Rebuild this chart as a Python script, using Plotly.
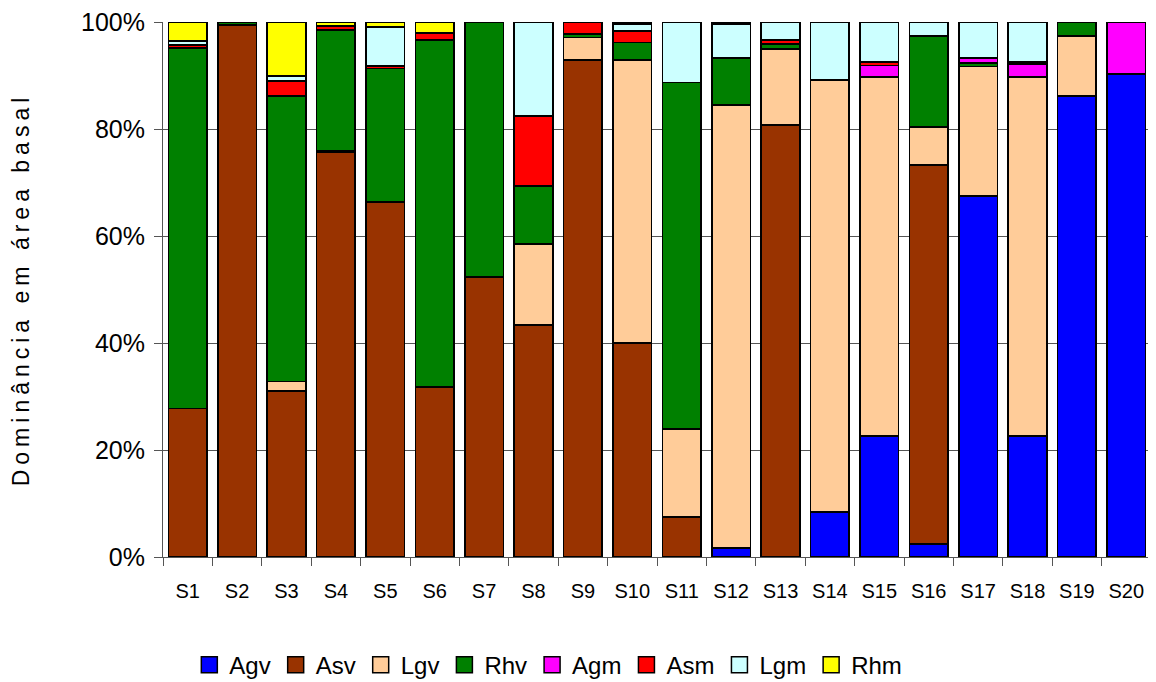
import plotly.graph_objects as go

categories = [f"S{i}" for i in range(1, 21)]
series_names = ["Agv", "Asv", "Lgv", "Rhv", "Agm", "Asm", "Lgm", "Rhm"]
colors = ["#0000FF", "#993300", "#FFCC99", "#008000", "#FF00FF", "#FF0000", "#CCFFFF", "#FFFF00"]

Agv = [0, 0, 0, 0, 0, 0, 0, 0, 0, 0, 0, 1.7, 0, 8.4, 22.6, 2.4, 67.5, 22.6, 86.2, 90.3]
Asv = [27.7, 99.4, 31.0, 75.7, 66.4, 31.8, 52.3, 43.4, 92.9, 40.0, 7.5, 0, 80.7, 0, 0, 70.9, 0, 0, 0, 0]
Lgv = [0, 0, 1.8, 0.3, 0, 0, 0, 15.1, 4.2, 52.9, 16.4, 82.8, 14.3, 80.8, 67.1, 7.1, 24.2, 67.1, 11.2, 0]
Rhv = [67.4, 0.6, 53.4, 22.5, 24.9, 64.8, 47.7, 10.8, 0.7, 3.3, 64.8, 8.8, 0.9, 0, 0, 17.0, 0.6, 0, 2.6, 0]
Agm = [0, 0, 0, 0, 0, 0, 0, 0, 0, 0, 0, 0, 0, 0, 2.2, 0, 1.0, 2.4, 0, 9.7]
Asm = [0.5, 0, 2.8, 0.7, 0.5, 1.3, 0, 13.1, 2.2, 2.1, 0, 0, 0.7, 0, 0.6, 0, 0, 0.4, 0, 0]
Lgm = [0.7, 0, 0.9, 0, 7.3, 0, 0, 17.6, 0, 1.3, 11.3, 6.3, 3.4, 10.8, 7.5, 2.6, 6.7, 7.5, 0, 0]
Rhm = [3.6, 0, 10.1, 0.8, 0.9, 2.1, 0, 0, 0, 0.4, 0, 0.4, 0, 0, 0, 0, 0, 0, 0, 0]

data = [Agv, Asv, Lgv, Rhv, Agm, Asm, Lgm, Rhm]

fig = go.Figure()
for name, vals, col in zip(series_names, data, colors):
    fig.add_trace(go.Bar(
        x=categories, y=vals, name=name, showlegend=False,
        marker=dict(color=col, line=dict(color="black", width=1.6)),
    ))
# legend proxies (square swatches with black outline)
for name, col in zip(series_names, colors):
    fig.add_trace(go.Scatter(
        x=[None], y=[None], name=name, mode="markers",
        marker=dict(symbol="square", size=16, color=col, line=dict(color="black", width=1.5)),
    ))

font_family = "Liberation Sans, Arial, sans-serif"
fig.update_layout(
    barmode="stack",
    barnorm="percent",
    bargap=0.22,
    width=1148, height=674,
    margin=dict(l=155, r=5, t=14, b=125, autoexpand=False),
    paper_bgcolor="white", plot_bgcolor="white",
    font=dict(family=font_family, color="black"),
    showlegend=True,
    legend=dict(orientation="h", x=0.39, xanchor="center", y=-0.16, yanchor="top",
                font=dict(size=24, family=font_family), itemwidth=30,
                traceorder="normal"),
    xaxis=dict(
        showline=True, linecolor="#555", linewidth=1,
        ticks="outside", tickson="boundaries", ticklen=8, tickcolor="#555",
        tickfont=dict(size=20, family="Liberation Sans Narrow, Arial Narrow, Liberation Sans"),
        ticklabelstandoff=16,
    ),
    yaxis=dict(
        range=[0, 100], dtick=20, ticksuffix="%",
        showline=True, linecolor="#555", linewidth=1,
        ticks="outside", ticklen=8, tickcolor="#555",
        showgrid=True, gridcolor="#555", gridwidth=1,
        tickfont=dict(size=25), ticklabelstandoff=4, ticklabeloverflow="allow",
        title=dict(text="Dominância em área basal", font=dict(size=23), standoff=58),
    ),
)

post = """
var gd = document.getElementById('{plot_id}');
function spaceTitle(){ var t = gd.querySelector('.ytitle'); if(t){ t.style.letterSpacing = '5px'; } }
spaceTitle();
if (gd.on) { gd.on('plotly_afterplot', spaceTitle); }
"""
fig.write_html("out.html", post_script=post)
